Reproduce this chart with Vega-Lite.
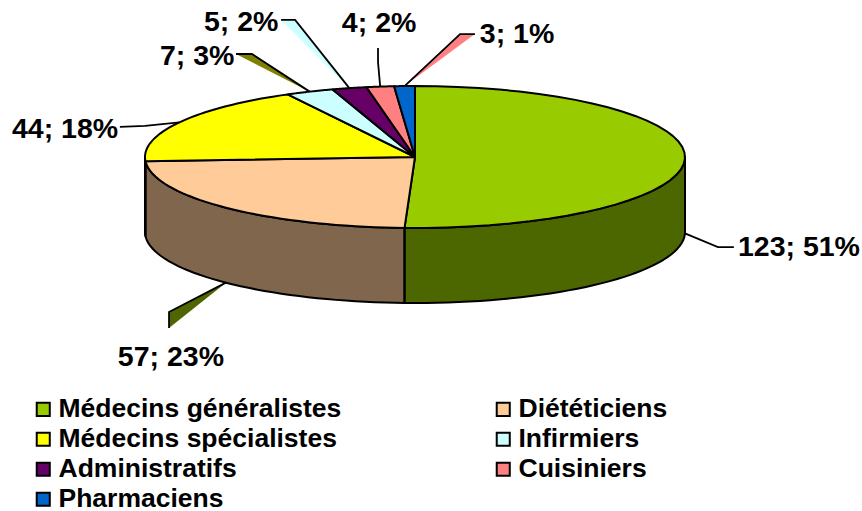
{
"$schema":"https://vega.github.io/schema/vega-lite/v6.json",
"width":862,"height":511,"padding":0,"autosize":{"type":"none"},"background":"white",
"config":{"view":{"stroke":null},"font":"Liberation Sans"},
"data":{"values":[
{"categorie":"Médecins généralistes","valeur":123},
{"categorie":"Diététiciens","valeur":57},
{"categorie":"Médecins spécialistes","valeur":44},
{"categorie":"Infirmiers","valeur":7},
{"categorie":"Administratifs","valeur":5},
{"categorie":"Cuisiniers","valeur":4},
{"categorie":"Pharmaciens","valeur":3}
]},
"transform":[
{"joinaggregate":[{"op":"sum","field":"valeur","as":"total"}]},
{"window":[{"op":"sum","field":"valeur","as":"cumul"}]},
{"calculate":"2*PI*datum.cumul/datum.total","as":"a1"},
{"calculate":"datum.a1-2*PI*datum.valeur/datum.total","as":"a0"},
{"calculate":"(datum.a0+datum.a1)/2","as":"mid"},
{"calculate":"datum.valeur+'; '+round(100*datum.valeur/datum.total)+'%'","as":"etiquette"}
],
"layer":[
{"transform":[
{"filter":"datum.a1>PI/2 && datum.a0<3*PI/2"},
{"calculate":"[0,0.025,0.05,0.075,0.1,0.125,0.15,0.175,0.2,0.225,0.25,0.275,0.3,0.325,0.35,0.375,0.4,0.425,0.45,0.475,0.5,0.525,0.55,0.575,0.6,0.625,0.65,0.675,0.7,0.725,0.75,0.775,0.8,0.825,0.85,0.875,0.9,0.925,0.95,0.975,1]","as":"t"},
{"flatten":["t"]},
{"calculate":"clamp(datum.a0,PI/2,3*PI/2)+datum.t*(clamp(datum.a1,PI/2,3*PI/2)-clamp(datum.a0,PI/2,3*PI/2))","as":"th"},
{"calculate":"sin(datum.th)","as":"px"},
{"calculate":"cos(datum.th)","as":"py"},
{"calculate":"datum.py-1.056","as":"pyb"}
],
"encoding":{
"x":{"field":"px","type":"quantitative","scale":{"domain":[-1.53704,1.65556],"nice":false,"zero":false},"axis":null},
"y":{"field":"py","type":"quantitative","scale":{"domain":[-4.98592,2.21127],"nice":false,"zero":false},"axis":null},
"y2":{"field":"pyb"},
"detail":{"field":"categorie"}
},
"layer":[
{"mark":{"type":"area","line":false},
"encoding":{"fill":{"field":"categorie","type":"nominal",
"scale":{"domain":["Médecins généralistes","Diététiciens","Médecins spécialistes","Infirmiers","Administratifs","Cuisiniers","Pharmaciens"],"range":["#99cc00","#ffcc99","#ffff00","#ccffff","#660066","#ff8080","#0066cc"]},
"legend":{"title":null,"orient":"none","legendX":30,"legendY":396,"direction":"horizontal","columns":2,"columnPadding":148,"rowPadding":3,"symbolType":"square","symbolSize":170,"symbolStrokeColor":"black","symbolStrokeWidth":2,"symbolOpacity":1,"labelFontSize":26.5,"labelFontWeight":"bold","labelFont":"Liberation Sans","labelColor":"black","labelOffset":2,"labelLimit":400}}}},
{"mark":{"type":"area","fill":"black","fillOpacity":0.5,"stroke":"black","strokeWidth":2,"strokeJoin":"round"}}
]},
{"transform":[
{"calculate":"[-1,0,0.025,0.05,0.075,0.1,0.125,0.15,0.175,0.2,0.225,0.25,0.275,0.3,0.325,0.35,0.375,0.4,0.425,0.45,0.475,0.5,0.525,0.55,0.575,0.6,0.625,0.65,0.675,0.7,0.725,0.75,0.775,0.8,0.825,0.85,0.875,0.9,0.925,0.95,0.975,1,2]","as":"t"},
{"flatten":["t"]},
{"calculate":"datum.a0+datum.t*(datum.a1-datum.a0)","as":"th"},
{"calculate":"datum.t<0||datum.t>1?0:sin(datum.th)","as":"px"},
{"calculate":"datum.t<0||datum.t>1?0:cos(datum.th)","as":"py"}
],
"mark":{"type":"line","filled":true,"stroke":"black","strokeWidth":2,"strokeJoin":"round"},
"encoding":{
"x":{"field":"px","type":"quantitative"},
"y":{"field":"py","type":"quantitative"},
"order":{"field":"t","type":"quantitative"},
"fill":{"field":"categorie","type":"nominal","legend":null},
"detail":{"field":"categorie"}
}},
{"transform":[
{"calculate":"{'Médecins généralistes':[1.122,-1.268,1.181,-1.268,'transparent'],'Diététiciens':[-0.911,-2.183,-0.911,-2.408,'#4f6600'],'Médecins spécialistes':[-1,0.437,-1.093,0.423,'transparent'],'Infirmiers':[-0.604,1.451,-0.663,1.451,'#808000'],'Administratifs':[-0.444,1.93,-0.496,1.93,'#ccffff'],'Cuisiniers':[-0.137,1.338,-0.137,1.535,'transparent'],'Pharmaciens':[0.167,1.732,0.222,1.732,'#ff8080']}[datum.categorie]","as":"renvoi"},
{"calculate":"datum.renvoi[4]","as":"teinte"},
{"calculate":"[0,1,2]","as":"etape"},
{"flatten":["etape"]},
{"calculate":"datum.etape==0?sin(datum.mid):datum.renvoi[2*datum.etape-2]","as":"px"},
{"calculate":"datum.etape==0?cos(datum.mid)-(sin(datum.mid)>-0.999&&cos(datum.mid)<0.01?1.056:0):datum.renvoi[2*datum.etape-1]","as":"py"}
],
"mark":{"type":"line","filled":true,"stroke":"black","strokeWidth":1.8,"strokeJoin":"miter"},
"encoding":{
"x":{"field":"px","type":"quantitative"},
"y":{"field":"py","type":"quantitative"},
"order":{"field":"etape","type":"quantitative"},
"fill":{"field":"teinte","type":"nominal","scale":null,"legend":null},
"detail":{"field":"categorie"}
}},
{"transform":[
{"calculate":"{'Médecins généralistes':[1.422,-1.268],'Diététiciens':[-0.904,-2.817],'Médecins spécialistes':[-1.296,0.394],'Infirmiers':[-0.807,1.423],'Administratifs':[-0.644,1.901],'Cuisiniers':[-0.133,1.887],'Pharmaciens':[0.378,1.732]}[datum.categorie]","as":"place"},
{"calculate":"datum.place[0]","as":"lx"},
{"calculate":"datum.place[1]","as":"ly"}
],
"mark":{"type":"text","fontSize":28.5,"fontWeight":"bold","font":"Liberation Sans","color":"black","align":"center","baseline":"middle"},
"encoding":{
"x":{"field":"lx","type":"quantitative"},
"y":{"field":"ly","type":"quantitative"},
"text":{"field":"etiquette"}
}}
]
}
